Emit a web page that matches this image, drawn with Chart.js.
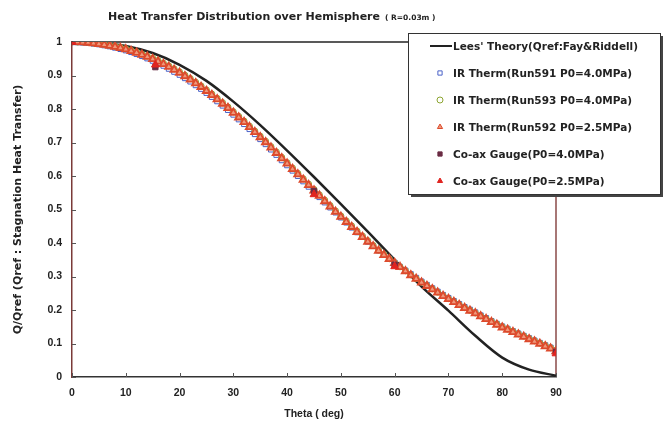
<!DOCTYPE html>
<html>
<head>
<meta charset="utf-8">
<script src="https://cdn.jsdelivr.net/npm/chart.js@4/dist/chart.umd.min.js"></script>
<style>
  html, body { margin: 0; padding: 0; background: #fff; }
  #wrap { width: 669px; height: 428px; position: relative; }
</style>
</head>
<body>
<div id="wrap"><canvas id="heatChart" width="669" height="428"></canvas></div>
<script>
// theta (deg) for IR thermography samples
const irTheta = [
  0, 1, 2, 3, 4, 5, 6, 7, 8, 9,
  10, 11, 12, 13, 14, 15, 16, 17, 18, 19,
  20, 21, 22, 23, 24, 25, 26, 27, 28, 29,
  30, 31, 32, 33, 34, 35, 36, 37, 38, 39,
  40, 41, 42, 43, 44, 45, 46, 47, 48, 49,
  50, 51, 52, 53, 54, 55, 56, 57, 58, 59,
  60, 61, 62, 63, 64, 65, 66, 67, 68, 69,
  70, 71, 72, 73, 74, 75, 76, 77, 78, 79,
  80, 81, 82, 83, 84, 85, 86, 87, 88, 89,
  90
];
const run591 = [
  1.000, 0.999, 0.998, 0.997, 0.995, 0.993, 0.990, 0.987, 0.983, 0.979,
  0.975, 0.970, 0.964, 0.958, 0.951, 0.944, 0.937, 0.929, 0.920, 0.911,
  0.902, 0.892, 0.882, 0.871, 0.860, 0.848, 0.836, 0.823, 0.810, 0.797,
  0.783, 0.769, 0.755, 0.740, 0.725, 0.710, 0.695, 0.679, 0.663, 0.647,
  0.632, 0.616, 0.600, 0.584, 0.568, 0.552, 0.537, 0.521, 0.506, 0.491,
  0.476, 0.461, 0.446, 0.432, 0.418, 0.404, 0.391, 0.378, 0.365, 0.353,
  0.341, 0.329, 0.318, 0.307, 0.296, 0.285, 0.275, 0.265, 0.255, 0.245,
  0.236, 0.227, 0.218, 0.209, 0.201, 0.193, 0.184, 0.176, 0.167, 0.159,
  0.151, 0.144, 0.137, 0.130, 0.123, 0.116, 0.109, 0.102, 0.095, 0.088,
  0.080
];
const run593 = [
  1.000, 1.000, 1.000, 0.999, 0.997, 0.995, 0.993, 0.990, 0.987, 0.984,
  0.980, 0.975, 0.970, 0.964, 0.958, 0.952, 0.945, 0.937, 0.929, 0.920,
  0.911, 0.901, 0.891, 0.880, 0.869, 0.857, 0.845, 0.832, 0.819, 0.806,
  0.792, 0.778, 0.764, 0.749, 0.734, 0.719, 0.704, 0.688, 0.672, 0.656,
  0.640, 0.624, 0.608, 0.592, 0.576, 0.560, 0.544, 0.528, 0.512, 0.496,
  0.481, 0.466, 0.451, 0.436, 0.421, 0.407, 0.393, 0.379, 0.366, 0.353,
  0.341, 0.329, 0.317, 0.305, 0.294, 0.283, 0.273, 0.263, 0.253, 0.243,
  0.234, 0.225, 0.216, 0.207, 0.199, 0.191, 0.182, 0.174, 0.166, 0.158,
  0.150, 0.143, 0.136, 0.129, 0.122, 0.115, 0.108, 0.101, 0.094, 0.087,
  0.079
];
const run592 = [
  1.000, 1.000, 0.999, 0.998, 0.996, 0.994, 0.992, 0.989, 0.986, 0.982,
  0.978, 0.973, 0.968, 0.962, 0.956, 0.949, 0.942, 0.934, 0.926, 0.917,
  0.908, 0.898, 0.888, 0.877, 0.866, 0.854, 0.842, 0.829, 0.816, 0.803,
  0.789, 0.775, 0.761, 0.746, 0.731, 0.716, 0.701, 0.685, 0.669, 0.653,
  0.637, 0.621, 0.605, 0.589, 0.573, 0.557, 0.541, 0.525, 0.509, 0.493,
  0.478, 0.463, 0.448, 0.433, 0.418, 0.404, 0.390, 0.377, 0.364, 0.352,
  0.340, 0.328, 0.316, 0.304, 0.293, 0.282, 0.272, 0.262, 0.252, 0.242,
  0.233, 0.224, 0.215, 0.206, 0.198, 0.190, 0.181, 0.173, 0.164, 0.156,
  0.148, 0.141, 0.134, 0.127, 0.120, 0.113, 0.106, 0.099, 0.092, 0.085,
  0.077
];

// Lees' theory curve
const leesTheta = [0, 5, 10, 15, 20, 25, 30, 35, 40, 45, 50, 55, 60, 65, 70, 75, 80, 85, 90];
const leesQ = [1.0, 0.997, 0.988, 0.967, 0.932, 0.884, 0.822, 0.752, 0.676, 0.597,
               0.516, 0.434, 0.350, 0.270, 0.198, 0.123, 0.058, 0.022, 0.004];

// co-axial gauges
const coaxTheta = [0, 15.5, 45, 60, 90];
const coax40 = [1.0, 0.925, 0.555, 0.335, 0.075];
const coax25 = [1.0, 0.932, 0.545, 0.330, 0.070];

const xTicks = [0, 10, 20, 30, 40, 50, 60, 70, 80, 90];
const yTicks = [0, 0.1, 0.2, 0.3, 0.4, 0.5, 0.6, 0.7, 0.8, 0.9, 1];

const FONT = "'Liberation Sans', Arial, sans-serif";
const WIDE = "'DejaVu Sans', sans-serif";

function pts(xs, ys) {
    return xs.map((x, i) => ({ x: x, y: ys[i] }));
}

// frame, inward ticks, title and boxed legend (Excel style)
const excelLook = {
    id: 'excelLook',
    beforeDatasetsDraw(chart) {
        const { ctx, chartArea: a, scales } = chart;
        ctx.save();
        ctx.lineWidth = 1.5;
        ctx.strokeStyle = '#222';
        ctx.beginPath();
        ctx.moveTo(a.left, a.top);
        ctx.lineTo(a.right, a.top);
        ctx.stroke();
        ctx.strokeStyle = '#8a4a48';
        ctx.beginPath();
        ctx.moveTo(a.right, a.top);
        ctx.lineTo(a.right, a.bottom);
        ctx.stroke();
        // small inward ticks
        ctx.lineWidth = 1;
        ctx.strokeStyle = '#555';
        yTicks.forEach(v => {
            const y = Math.round(scales.y.getPixelForValue(v)) + 0.5;
            ctx.beginPath();
            ctx.moveTo(a.left, y);
            ctx.lineTo(a.left + 4, y);
            ctx.stroke();
        });
        xTicks.forEach(v => {
            const x = Math.round(scales.x.getPixelForValue(v)) + 0.5;
            ctx.beginPath();
            ctx.moveTo(x, a.bottom);
            ctx.lineTo(x, a.bottom - 4);
            ctx.stroke();
        });
        ctx.restore();
    },
    afterDraw(chart) {
        const ctx = chart.ctx;
        ctx.save();
        // title
        ctx.fillStyle = '#222';
        ctx.textBaseline = 'middle';
        const main = 'Heat Transfer Distribution over Hemisphere';
        const sub = '( R=0.03m )';
        ctx.font = 'bold 11px ' + WIDE;
        const w1 = ctx.measureText(main).width;
        ctx.fillText(main, 108, 17);
        ctx.font = 'bold 7.5px ' + WIDE;
        ctx.fillText(sub, 108 + w1 + 5, 18);

        // legend box
        const bx = 408, by = 33, bw = 252, bh = 161;
        ctx.fillStyle = '#444';
        ctx.fillRect(bx + 3, by + 3, bw, bh);
        ctx.fillStyle = '#fff';
        ctx.fillRect(bx, by, bw, bh);
        ctx.strokeStyle = '#333';
        ctx.lineWidth = 1;
        ctx.strokeRect(bx + 0.5, by + 0.5, bw, bh);

        ctx.font = 'bold 10.5px ' + WIDE;
        ctx.textAlign = 'left';
        chart.data.datasets.forEach((ds, i) => {
            const y = 46 + i * 27;
            if (ds.showLine) {
                ctx.strokeStyle = ds.borderColor;
                ctx.lineWidth = 2;
                ctx.beginPath();
                ctx.moveTo(430, y);
                ctx.lineTo(452, y);
                ctx.stroke();
            } else {
                ctx.strokeStyle = ds.pointBorderColor;
                ctx.fillStyle = ds.pointBackgroundColor;
                ctx.lineWidth = 1;
                Chart.helpers.drawPoint(ctx, {
                    pointStyle: ds.pointStyle,
                    radius: 3,
                    borderWidth: 1,
                    rotation: 0
                }, 440, y);
            }
            ctx.fillStyle = '#222';
            ctx.fillText(ds.label, 453, y + 1);
        });
        ctx.restore();
    }
};

new Chart(document.getElementById('heatChart'), {
    type: 'scatter',
    data: {
        datasets: [
            {
                label: "Lees' Theory(Qref:Fay&Riddell)",
                data: pts(leesTheta, leesQ),
                showLine: true,
                borderColor: '#222',
                borderWidth: 2.5,
                pointRadius: 0,
                cubicInterpolationMode: 'monotone',
                order: 6
            },
            {
                label: 'IR Therm(Run591 P0=4.0MPa)',
                data: pts(irTheta, run591),
                showLine: false,
                pointStyle: 'rect',
                pointRadius: 3.5,
                pointBorderWidth: 1,
                pointBorderColor: '#4a62c8',
                pointBackgroundColor: '#fff',
                order: 5
            },
            {
                label: 'IR Therm(Run593 P0=4.0MPa)',
                data: pts(irTheta, run593),
                showLine: false,
                pointStyle: 'circle',
                pointRadius: 3,
                pointBorderWidth: 1,
                pointBorderColor: '#8da531',
                pointBackgroundColor: '#fff',
                order: 4
            },
            {
                label: 'IR Therm(Run592 P0=2.5MPa)',
                data: pts(irTheta, run592),
                showLine: false,
                pointStyle: 'triangle',
                pointRadius: 4.2,
                pointBorderWidth: 1.8,
                pointBorderColor: '#dd4a2c',
                pointBackgroundColor: '#ee9a7c',
                order: 3
            },
            {
                label: 'Co-ax Gauge(P0=4.0MPa)',
                data: pts(coaxTheta, coax40),
                showLine: false,
                pointStyle: 'rect',
                pointRadius: 3.8,
                pointBorderWidth: 1,
                pointBorderColor: '#6a2c44',
                pointBackgroundColor: '#6a2c44',
                order: 2
            },
            {
                label: 'Co-ax Gauge(P0=2.5MPa)',
                data: pts(coaxTheta, coax25),
                showLine: false,
                pointStyle: 'triangle',
                pointRadius: 4.5,
                pointBorderWidth: 1,
                pointBorderColor: '#e02420',
                pointBackgroundColor: '#e02420',
                order: 1
            }
        ]
    },
    options: {
        responsive: false,
        animation: false,
        layout: { padding: { left: 0, right: 113, top: 42, bottom: 0 } },
        plugins: {
            legend: { display: false },
            title: { display: false },
            tooltip: { enabled: false }
        },
        scales: {
            x: {
                type: 'linear',
                min: 0,
                max: 90,
                afterFit: (s) => { s.height = 51; },
                afterBuildTicks: (s) => { s.ticks = xTicks.map(v => ({ value: v })); },
                grid: { display: false, drawTicks: false },
                border: { color: '#333', width: 1.5 },
                ticks: {
                    color: '#222',
                    padding: 10,
                    font: { family: FONT, size: 10.5, weight: 'bold' }
                },
                title: {
                    display: true,
                    text: 'Theta ( deg)',
                    color: '#222',
                    padding: { top: 0, bottom: 8 },
                    font: { family: FONT, size: 10.5, weight: 'bold' }
                }
            },
            y: {
                min: 0,
                max: 1,
                afterFit: (s) => { s.width = 72; },
                afterBuildTicks: (s) => { s.ticks = yTicks.map(v => ({ value: v })); },
                grid: { display: false, drawTicks: false },
                border: { color: '#7a3a38', width: 1.5 },
                ticks: {
                    color: '#222',
                    padding: 10,
                    font: { family: FONT, size: 10.5, weight: 'bold' },
                    callback: (v) => String(Math.round(v * 10) / 10)
                },
                title: {
                    display: true,
                    text: 'Q/Qref (Qref : Stagnation Heat Transfer)',
                    color: '#222',
                    padding: { top: 12, bottom: 0 },
                    font: { family: WIDE, size: 11, weight: 'bold' }
                }
            }
        }
    },
    plugins: [excelLook]
});
</script>
</body>
</html>
